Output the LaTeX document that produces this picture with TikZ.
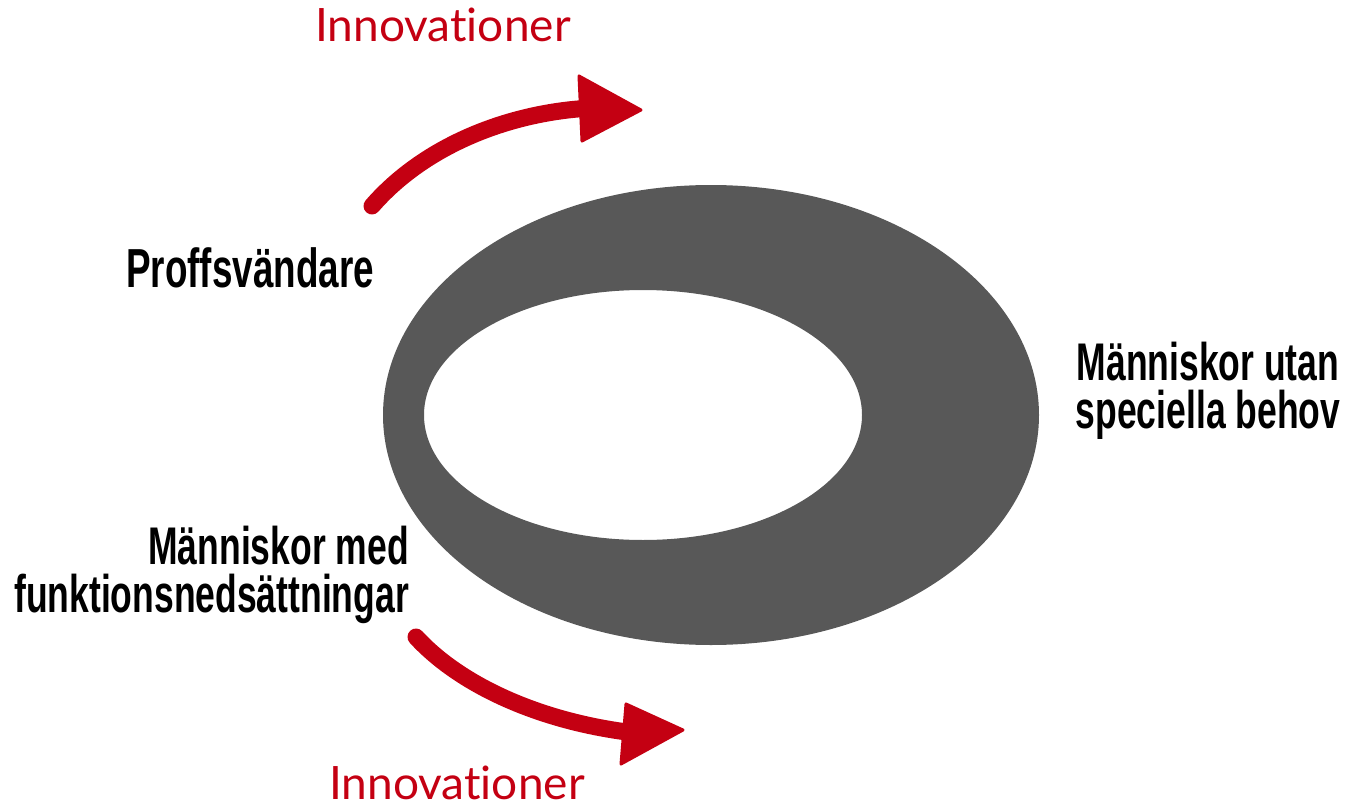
\documentclass[tikz,border=0pt]{standalone}
\usepackage{fontspec}
\newfontfamily\condfont[FakeStretch=0.67]{Liberation Sans Bold}
\newfontfamily\redfont[Ligatures=NoCommon]{Lato}
\definecolor{ringgray}{RGB}{88,88,88}
\definecolor{arrowred}{RGB}{196,0,18}
\begin{document}
\begin{tikzpicture}[x=1pt,y=-1pt,
  label/.style={font=\condfont\fontsize{53}{48}\selectfont, text=black, inner sep=0pt},
  redlabel/.style={font=\redfont\fontsize{46}{46}\selectfont, text=arrowred, inner sep=0pt},
  shaft/.style={draw=arrowred, line width=17pt, line cap=round},
  head/.style={fill=arrowred, draw=arrowred, line width=3pt, line join=round}]
\useasboundingbox (0,0) rectangle (1350,808);
% ring
\fill[ringgray, even odd rule] (711,415) ellipse [x radius=328, y radius=230]
  (643,415) ellipse [x radius=219, y radius=125];
% labels
\node[label, font=\condfont\fontsize{55}{48}\selectfont, anchor=base] (prof) at (250,287) {Proffsvändare};
\node[label, align=center, anchor=base] (utan) at (1208,428) {Människor utan\\speciella behov};
\node[label, align=right, anchor=base east] (med) at (409,612) {Människor med\\funktionsnedsättningar};
\node[redlabel, anchor=base] (innTop) at (443,42) {Innovationer};
\node[redlabel, anchor=base] (innBot) at (457,799) {Innovationer};
% top arrow
\coordinate (t0) at (372,206);
\coordinate (t1) at (592,108);
\coordinate (tt) at (641,110);
\coordinate (ta) at (579,76);
\coordinate (tb) at (582,141);
\draw[shaft] (t0) .. controls (425,145) and (510,112) .. (t1);
\fill[head] (tt) -- (ta) -- (tb) -- cycle;
% bottom arrow
\coordinate (b0) at (416,637);
\coordinate (b1) at (635,733);
\coordinate (bt) at (683,730);
\coordinate (ba) at (626,704);
\coordinate (bb) at (621,764);
\draw[shaft] (b0) .. controls (460,685) and (540,722) .. (b1);
\fill[head] (bt) -- (ba) -- (bb) -- cycle;
\end{tikzpicture}
\end{document}
